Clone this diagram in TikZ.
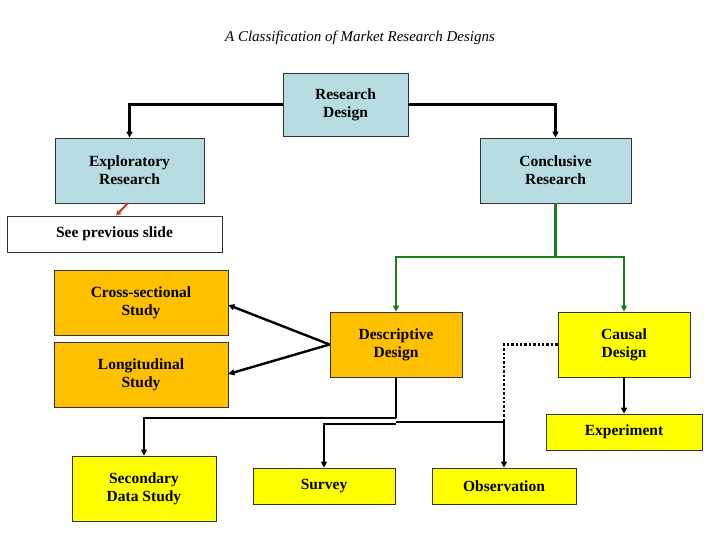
\documentclass[tikz,border=0pt]{standalone}
\usepackage{fontspec}
\setmainfont{Liberation Serif}
\usetikzlibrary{arrows.meta}
\definecolor{bluebox}{HTML}{B7DDE3}
\definecolor{orangebox}{HTML}{FFC000}
\definecolor{yellowbox}{HTML}{FFFF00}
\definecolor{darkgreen}{HTML}{1E7B1E}
\definecolor{redarr}{HTML}{C0401A}
\tikzset{
  box/.style={draw=black!80, line width=0.8pt, font=\fontsize{15.5}{18}\selectfont\bfseries, align=center, inner sep=0pt, anchor=center},
  blue/.style={box, fill=bluebox},
  orng/.style={box, fill=orangebox},
  yell/.style={box, fill=yellowbox},
  wht/.style={box, fill=white},
  conn/.style={line width=2.4pt, -{Triangle[length=6pt,width=6pt]}},
  line/.style={line width=2.4pt},
}
\begin{document}
\begin{tikzpicture}[x=1pt,y=-1pt]
\useasboundingbox (0,0) rectangle (720,540);
\node[font=\fontsize{15}{18}\selectfont\itshape] (title) at (360,38) {A Classification of Market Research Designs};
\node[blue, minimum width=125pt, minimum height=63pt] (rd) at (345.5,104.5) {Research\\Design};
\node[blue, minimum width=149pt, minimum height=65pt] (ex) at (129.5,170.5) {Exploratory\\Research};
\node[blue, minimum width=151pt, minimum height=65pt] (co) at (555.5,170.5) {Conclusive\\Research};
\node[wht, minimum width=215pt, minimum height=36pt] (sp) at (114.5,234) {See previous slide};
\node[orng, minimum width=174pt, minimum height=65pt] (cs) at (141,302.5) {Cross-sectional\\Study};
\node[orng, minimum width=174pt, minimum height=65pt] (lo) at (141,374.5) {Longitudinal\\Study};
\node[orng, minimum width=132pt, minimum height=65pt] (de) at (396,344.5) {Descriptive\\Design};
\node[yell, minimum width=132pt, minimum height=65pt] (ca) at (624,344.5) {Causal\\Design};
\node[yell, minimum width=156pt, minimum height=36pt] (exp) at (624,432) {Experiment};
\node[yell, minimum width=144pt, minimum height=65pt] (sec) at (144,488.5) {Secondary\\Data Study};
\node[yell, minimum width=142pt, minimum height=36pt] (su) at (324,486) {Survey};
\node[yell, minimum width=144pt, minimum height=36pt] (ob) at (504,486) {Observation};
\coordinate (j1) at (396,418);
\coordinate (j2) at (504,422);
% top
\draw[conn] (rd.west) -| (ex.north);
\draw[conn] (rd.east) -| (co.north);
\draw[redarr, line width=2pt, -{Triangle[length=5pt,width=5pt]}] (128,203) -- (sp.north -| 116,0);
% green
\draw[darkgreen, line width=2.4pt] (co.south) -- (555.5,257) coordinate (g);
\draw[darkgreen, conn] (g) -| (de.north);
\draw[darkgreen, conn] (g) -| (ca.north);
% descriptive
\draw[conn] (de.west) -- (cs.east |- 0,305);
\draw[conn] (de.west) -- (lo.east |- 0,374);
\draw[line] (de.south) -- (j1);
\draw[conn] (j1) -| (sec.north);
\draw[conn] (396,424) -| (su.north);
\draw[conn] (396,422) -| (ob.north);
\draw[line width=2.4pt, dotted] (ca.west) -| (j2);
\draw[conn] (ca.south) -- (exp.north);
\end{tikzpicture}
\end{document}
